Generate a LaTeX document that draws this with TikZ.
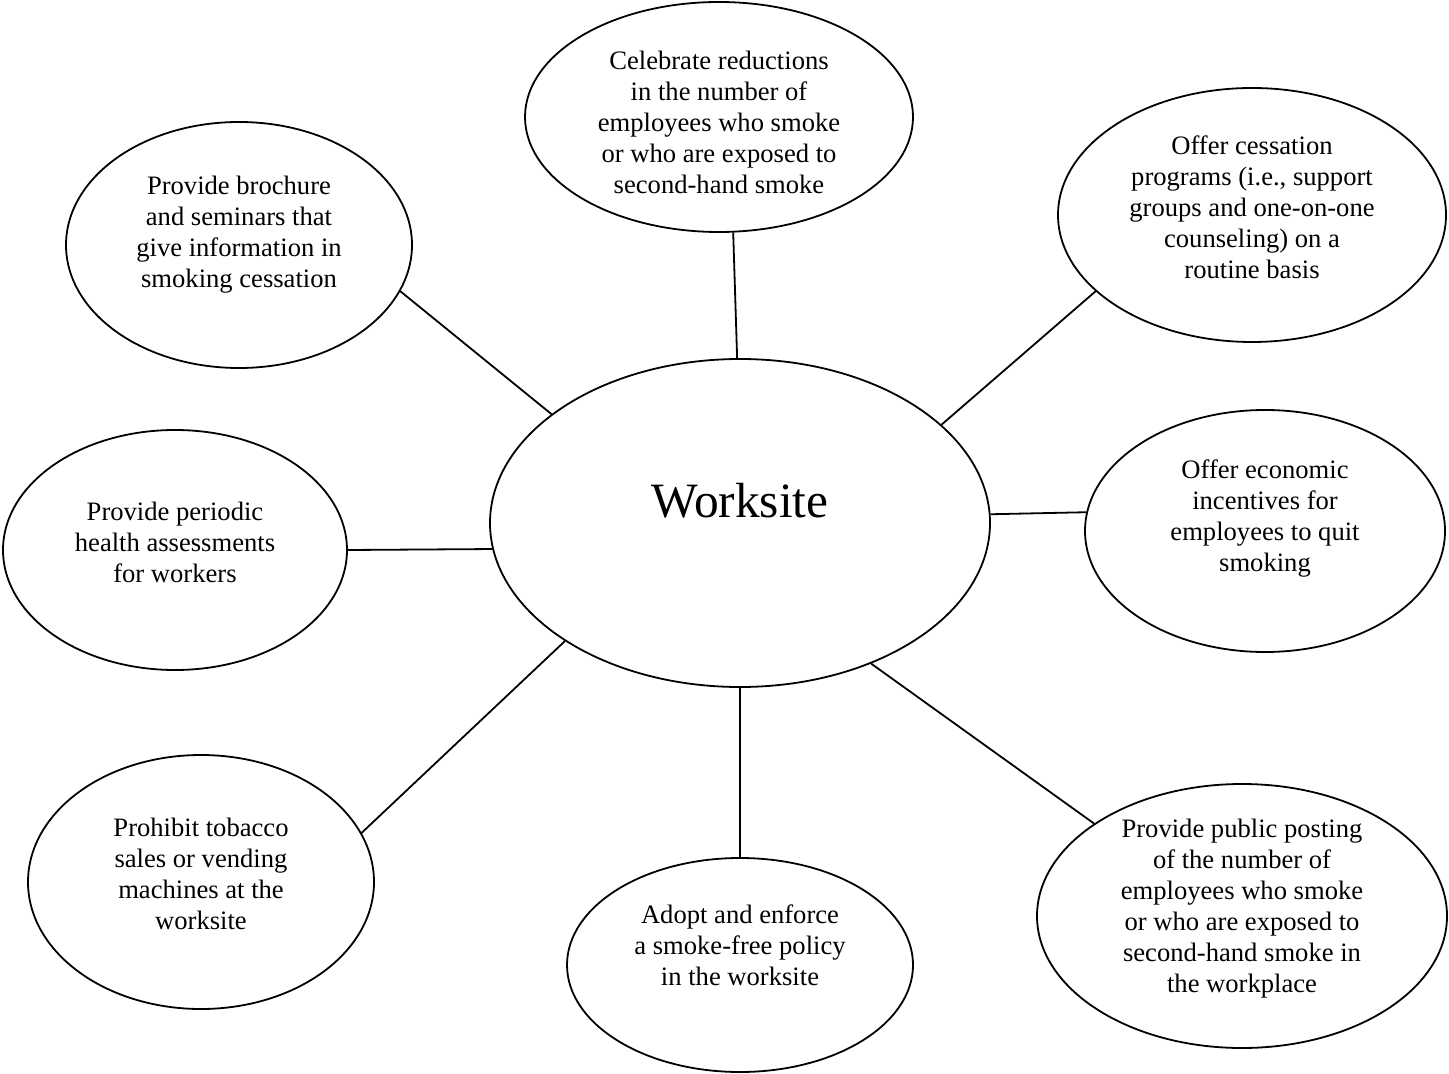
\documentclass[tikz,border=0pt]{standalone}
\usepackage{fontspec}
\setmainfont{Liberation Serif}
\usetikzlibrary{shapes.geometric}
\begin{document}
\begin{tikzpicture}[x=0.5pt,y=-0.5pt,
  bubble/.style={draw,ellipse,line width=0.9pt,inner sep=0pt},
  caption/.style={align=center,inner sep=0pt,
    font=\fontsize{13.3}{15.5}\selectfont},
  link/.style={line width=0.9pt}]
\useasboundingbox (0,0) rectangle (1449,1074);

% hub
\node[bubble,minimum width=250pt,minimum height=164pt] (hub) at (740,523) {};
\node[caption,font=\fontsize{24.7}{28}\selectfont,yshift=11pt] (hub-text) at (hub.center) {Worksite};

% surrounding actions
\node[bubble,minimum width=194pt,minimum height=115pt] (celebrate) at (719,117) {};
\node[caption,yshift=-2.5pt] (celebrate-text) at (celebrate.center)
  {Celebrate reductions\\in the number of\\employees who smoke\\or who are exposed to\\second-hand smoke};

\node[bubble,minimum width=173pt,minimum height=123pt] (brochure) at (239,245) {};
\node[caption,yshift=5pt] (brochure-text) at (brochure.center)
  {Provide brochure\\and seminars that\\give information in\\smoking cessation};

\node[bubble,minimum width=194pt,minimum height=127pt] (cessation) at (1252,215) {};
\node[caption,yshift=4pt] (cessation-text) at (cessation.center)
  {Offer cessation\\programs (i.e., support\\groups and one-on-one\\counseling) on a\\routine basis};

\node[bubble,minimum width=180pt,minimum height=121pt] (economic) at (1265,531) {};
\node[caption,yshift=6pt] (economic-text) at (economic.center)
  {Offer economic\\incentives for\\employees to quit\\smoking};

\node[bubble,minimum width=172pt,minimum height=120pt] (periodic) at (175,550) {};
\node[caption,yshift=4pt] (periodic-text) at (periodic.center)
  {Provide periodic\\health assessments\\for workers};

\node[bubble,minimum width=173pt,minimum height=127pt] (prohibit) at (201,882) {};
\node[caption,yshift=4pt] (prohibit-text) at (prohibit.center)
  {Prohibit tobacco\\sales or vending\\machines at the\\worksite};

\node[bubble,minimum width=173pt,minimum height=107pt] (adopt) at (740,965) {};
\node[caption,yshift=10pt] (adopt-text) at (adopt.center)
  {Adopt and enforce\\a smoke-free policy\\in the worksite};

\node[bubble,minimum width=205pt,minimum height=132pt] (public) at (1242,916) {};
\node[caption,yshift=3.5pt] (public-text) at (public.center)
  {Provide public posting\\of the number of\\employees who smoke\\or who are exposed to\\second-hand smoke in\\the workplace};

% connectors
\draw[link] (hub.150.4) -- (brochure.-16.8);
\draw[link] (hub.91) -- (celebrate.-83.1);
\draw[link] (hub.26.1) -- (cessation.206.9);
\draw[link] (hub.2.1) -- (economic.174.6);
\draw[link] (hub.186.2) -- (periodic.0);
\draw[link] (hub.214.9) -- (prohibit.17.7);
\draw[link] (hub.270) -- (adopt.90);
\draw[link] (hub.313.3) -- (public.148);
\end{tikzpicture}
\end{document}
